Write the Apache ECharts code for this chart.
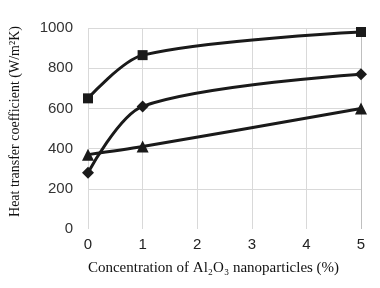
<!DOCTYPE html>
<html>
<head>
<meta charset="utf-8">
<script src="https://cdn.jsdelivr.net/npm/echarts@6/dist/echarts.min.js"></script>
<style>
  html, body { margin: 0; padding: 0; background: #fff; }
  #chart { width: 380px; height: 288px; }
</style>
</head>
<body>
<div id="chart"></div>
<script>
// concentration (%) and heat transfer coefficient values
const concentration = [0, 1, 5];
const squareSeries = [650, 865, 980];
const diamondSeries = [280, 610, 770];
const triangleSeries = [370, 410, 600];

const xTicks = [0, 1, 2, 3, 4, 5];
const yTicks = [0, 200, 400, 600, 800, 1000];

const pairs = vals => concentration.map((c, i) => [c, vals[i]]);

function lineSeries(data, symbol, size) {
  return {
    type: "line",
    data: pairs(data),
    smooth: 0.3,
    symbol: symbol,
    symbolSize: size,
    lineStyle: { color: "#1a1a1a", width: 3 },
    itemStyle: { color: "#1a1a1a" }
  };
}

const chart = echarts.init(document.getElementById("chart"));
chart.setOption({
  animation: false,
  grid: { left: 85, right: 19, top: 28, bottom: 59 },
  xAxis: {
    type: "value",
    min: xTicks[0],
    max: xTicks[xTicks.length - 1],
    interval: 1,
    axisLine: { show: false },
    axisTick: { show: false },
    axisLabel: { fontFamily: "Liberation Sans", fontSize: 15, color: "#222", margin: 8 },
    splitLine: {
      show: true,
      lineStyle: { color: ["#d9d9d9", "#d9d9d9", "#d9d9d9", "#d9d9d9", "#d9d9d9", "#bfbfbf"], width: 1 }
    },
    name: "Concentration of Al₂O₃ nanoparticles (%)",
    nameLocation: "middle",
    nameGap: 32,
    nameTextStyle: { fontFamily: "Liberation Serif", fontSize: 15, color: "#111", padding: [0, 22, 0, 0] }
  },
  yAxis: {
    type: "value",
    min: yTicks[0],
    max: yTicks[yTicks.length - 1],
    interval: 200,
    axisLine: { show: false },
    axisTick: { show: false },
    axisLabel: {
      fontFamily: "Liberation Sans", fontSize: 15, color: "#333", margin: 15,
      formatter: v => String(v)
    },
    splitLine: {
      show: true,
      lineStyle: { color: ["rgba(0,0,0,0)", "#d9d9d9", "#d9d9d9", "#d9d9d9", "#d9d9d9", "#d9d9d9"], width: 1 }
    },
    name: "Heat transfer coefficient (W/m²K)",
    nameLocation: "middle",
    nameGap: 66,
    nameTextStyle: { fontFamily: "Liberation Serif", fontSize: 14, color: "#111", padding: [0, 0, 0, 14] }
  },
  series: [
    lineSeries(squareSeries, "rect", 10),
    lineSeries(diamondSeries, "diamond", 12),
    lineSeries(triangleSeries, "triangle", 12)
  ]
});
</script>
</body>
</html>
